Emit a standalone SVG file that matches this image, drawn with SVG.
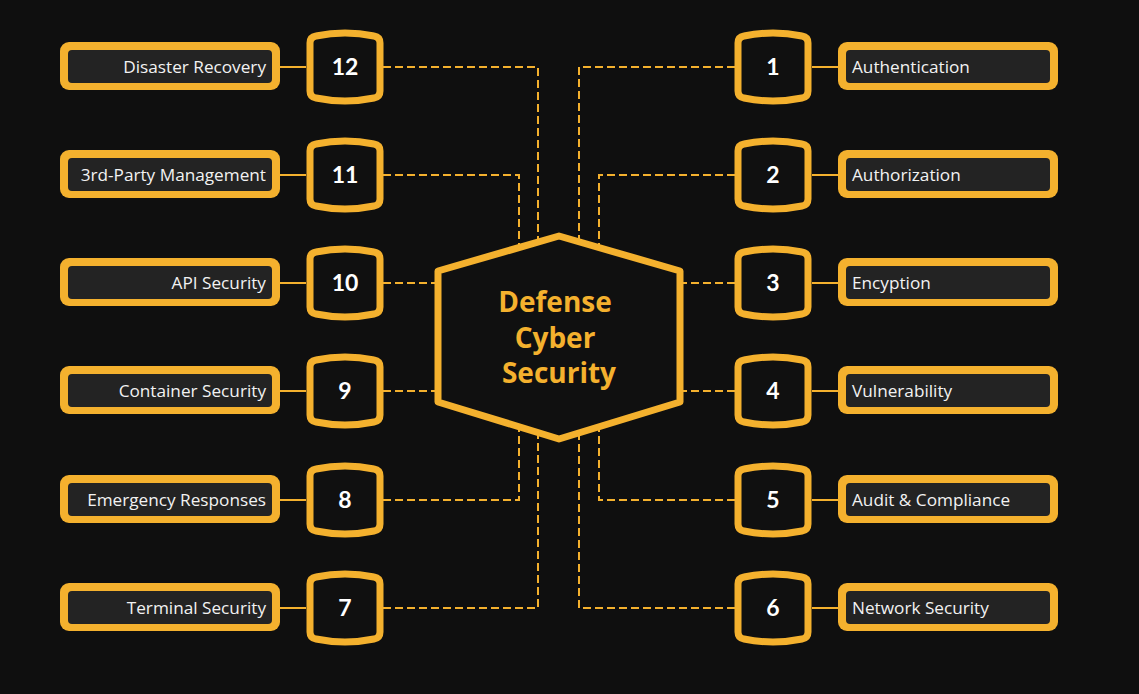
<svg xmlns="http://www.w3.org/2000/svg" width="1139" height="694" viewBox="0 0 1139 694">
<defs>
<style>
.bg{fill:#0f0f0f}
.lo{fill:#f4b12e}
.li{fill:#232323}
.lt{font-family:"Open Sans",Lato,sans-serif;font-size:17.2px;fill:#f2f2f2}
.nt{font-family:Lato,"Open Sans",sans-serif;font-size:23px;font-weight:700;fill:#ffffff;text-anchor:middle}
.bd{fill:#101010;stroke:#f4b12e;stroke-width:7}
.sl{stroke:#f4b12e;stroke-width:2;fill:none}
.dl{stroke:#f4b12e;stroke-width:2;fill:none;stroke-dasharray:8 4}
.ct{font-family:"Open Sans",Lato,sans-serif;font-size:28px;font-weight:700;fill:#f4b12e;text-anchor:middle}
</style>
<path id="badge" d="M-35,-24 Q-35,-30 -29,-31 Q0,-37 29,-31 Q35,-30 35,-24 L35,24 Q35,30 29,31 Q0,37 -29,31 Q-35,30 -35,24 Z"/>
</defs>
<rect class="bg" x="0" y="0" width="1139" height="694"/>
<g id="connectors">
<line class="sl" x1="280" y1="67" x2="306" y2="67"/>
<line class="sl" x1="280" y1="175" x2="306" y2="175"/>
<line class="sl" x1="280" y1="283" x2="306" y2="283"/>
<line class="sl" x1="280" y1="391" x2="306" y2="391"/>
<line class="sl" x1="280" y1="500" x2="306" y2="500"/>
<line class="sl" x1="280" y1="608" x2="306" y2="608"/>
<line class="sl" x1="812" y1="67" x2="838" y2="67"/>
<line class="sl" x1="812" y1="175" x2="838" y2="175"/>
<line class="sl" x1="812" y1="283" x2="838" y2="283"/>
<line class="sl" x1="812" y1="391" x2="838" y2="391"/>
<line class="sl" x1="812" y1="500" x2="838" y2="500"/>
<line class="sl" x1="812" y1="608" x2="838" y2="608"/>
<path class="dl" d="M383,67 H538 V337"/>
<path class="dl" d="M383,175 H519 V337"/>
<path class="dl" d="M383,283 H440"/>
<path class="dl" d="M383,391 H440"/>
<path class="dl" d="M383,500 H519 V337"/>
<path class="dl" d="M383,608 H538 V337"/>
<path class="dl" d="M735,67 H579 V337"/>
<path class="dl" d="M735,175 H599 V337"/>
<path class="dl" d="M735,283 H678"/>
<path class="dl" d="M735,391 H678"/>
<path class="dl" d="M735,500 H599 V337"/>
<path class="dl" d="M735,608 H579 V337"/>
</g>
<g id="center">
<polygon points="559,236 680,271 680,402 559,439 438,402 438,271" fill="#101010" stroke="#f4b12e" stroke-width="7" stroke-linejoin="round"/>
<text class="ct" x="555" y="312">Defense</text>
<text class="ct" x="555" y="348">Cyber</text>
<text class="ct" x="559" y="383">Security</text>
</g>
<g id="node-12"><rect class="lo" x="60" y="42" width="220" height="48" rx="9"/><rect class="li" x="68" y="50" width="204" height="33" rx="4"/><text class="lt" x="266" y="73" text-anchor="end">Disaster Recovery</text><use href="#badge" class="bd" x="345" y="67"/><text class="nt" x="345" y="75">12</text></g>
<g id="node-11"><rect class="lo" x="60" y="150" width="220" height="48" rx="9"/><rect class="li" x="68" y="158" width="204" height="33" rx="4"/><text class="lt" x="266" y="181" text-anchor="end">3rd-Party Management</text><use href="#badge" class="bd" x="345" y="175"/><text class="nt" x="345" y="183">11</text></g>
<g id="node-10"><rect class="lo" x="60" y="258" width="220" height="48" rx="9"/><rect class="li" x="68" y="266" width="204" height="33" rx="4"/><text class="lt" x="266" y="289" text-anchor="end">API Security</text><use href="#badge" class="bd" x="345" y="283"/><text class="nt" x="345" y="291">10</text></g>
<g id="node-9"><rect class="lo" x="60" y="366" width="220" height="48" rx="9"/><rect class="li" x="68" y="374" width="204" height="33" rx="4"/><text class="lt" x="266" y="397" text-anchor="end">Container Security</text><use href="#badge" class="bd" x="345" y="391"/><text class="nt" x="345" y="399">9</text></g>
<g id="node-8"><rect class="lo" x="60" y="475" width="220" height="48" rx="9"/><rect class="li" x="68" y="483" width="204" height="33" rx="4"/><text class="lt" x="266" y="506" text-anchor="end">Emergency Responses</text><use href="#badge" class="bd" x="345" y="500"/><text class="nt" x="345" y="508">8</text></g>
<g id="node-7"><rect class="lo" x="60" y="583" width="220" height="48" rx="9"/><rect class="li" x="68" y="591" width="204" height="33" rx="4"/><text class="lt" x="266" y="614" text-anchor="end">Terminal Security</text><use href="#badge" class="bd" x="345" y="608"/><text class="nt" x="345" y="616">7</text></g>
<g id="node-1"><rect class="lo" x="838" y="42" width="220" height="48" rx="9"/><rect class="li" x="846" y="50" width="204" height="33" rx="4"/><text class="lt" x="852" y="73">Authentication</text><use href="#badge" class="bd" x="773" y="67"/><text class="nt" x="773" y="75">1</text></g>
<g id="node-2"><rect class="lo" x="838" y="150" width="220" height="48" rx="9"/><rect class="li" x="846" y="158" width="204" height="33" rx="4"/><text class="lt" x="852" y="181">Authorization</text><use href="#badge" class="bd" x="773" y="175"/><text class="nt" x="773" y="183">2</text></g>
<g id="node-3"><rect class="lo" x="838" y="258" width="220" height="48" rx="9"/><rect class="li" x="846" y="266" width="204" height="33" rx="4"/><text class="lt" x="852" y="289">Encyption</text><use href="#badge" class="bd" x="773" y="283"/><text class="nt" x="773" y="291">3</text></g>
<g id="node-4"><rect class="lo" x="838" y="366" width="220" height="48" rx="9"/><rect class="li" x="846" y="374" width="204" height="33" rx="4"/><text class="lt" x="852" y="397">Vulnerability</text><use href="#badge" class="bd" x="773" y="391"/><text class="nt" x="773" y="399">4</text></g>
<g id="node-5"><rect class="lo" x="838" y="475" width="220" height="48" rx="9"/><rect class="li" x="846" y="483" width="204" height="33" rx="4"/><text class="lt" x="852" y="506">Audit &amp; Compliance</text><use href="#badge" class="bd" x="773" y="500"/><text class="nt" x="773" y="508">5</text></g>
<g id="node-6"><rect class="lo" x="838" y="583" width="220" height="48" rx="9"/><rect class="li" x="846" y="591" width="204" height="33" rx="4"/><text class="lt" x="852" y="614">Network Security</text><use href="#badge" class="bd" x="773" y="608"/><text class="nt" x="773" y="616">6</text></g>
</svg>
